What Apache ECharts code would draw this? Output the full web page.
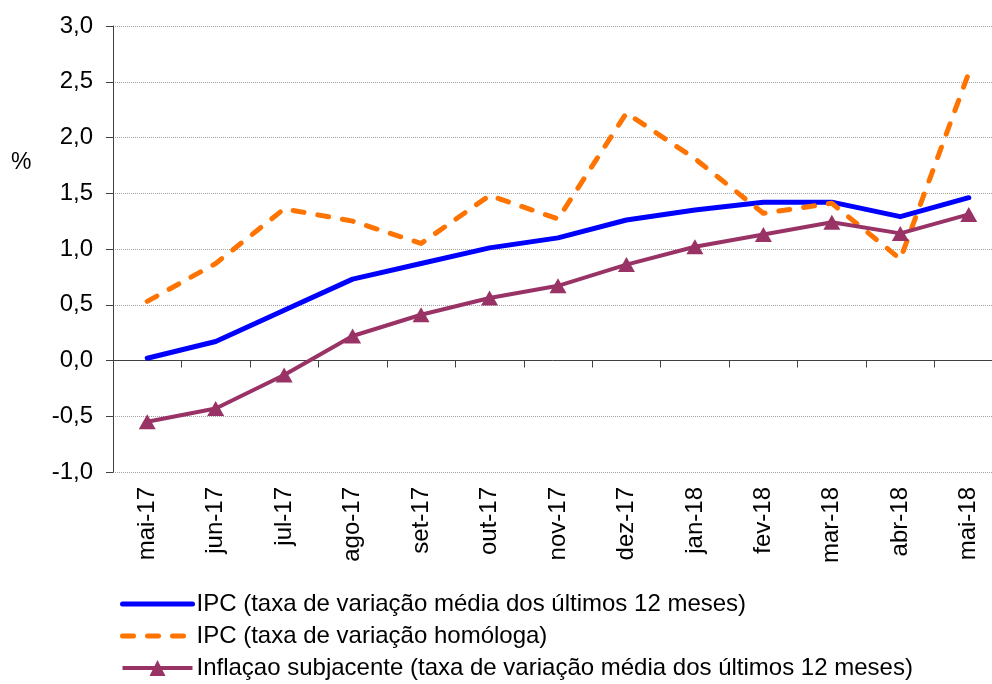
<!DOCTYPE html>
<html>
<head>
<meta charset="utf-8">
<script src="https://cdn.jsdelivr.net/npm/echarts@6/dist/echarts.min.js"></script>
<style>html,body{margin:0;padding:0;background:#fff;}#c{width:992px;height:684px;}</style>
</head>
<body>
<div id="c"></div>
<script>
const categories = ['mai-17','jun-17','jul-17','ago-17','set-17','out-17','nov-17','dez-17','jan-18','fev-18','mar-18','abr-18','mai-18'];
const ipcMedia = [0.02,0.17,0.45,0.73,0.87,1.01,1.10,1.26,1.35,1.42,1.42,1.29,1.46];
const ipcHomologa = [0.53,0.87,1.36,1.25,1.05,1.48,1.27,2.22,1.81,1.32,1.41,0.91,2.58];
const inflSubjacente = [-0.55,-0.43,-0.13,0.22,0.41,0.56,0.67,0.86,1.02,1.13,1.24,1.14,1.31];
const seriesNames = [
  'IPC (taxa de variação média dos últimos 12 meses)',
  'IPC (taxa de variação homóloga)',
  'Inflaçao subjacente (taxa de variação média dos últimos 12 meses)'
];
const yMin = -1, yMax = 3, yStep = 0.5;

const FONT = "'Liberation Sans', Arial, sans-serif";
const chart = echarts.init(document.getElementById('c'), null, {renderer: 'canvas'});
chart.setOption({
  animation: false,
  backgroundColor: '#ffffff',
  textStyle: {fontFamily: FONT},
  graphic: [{
    type: 'text', left: 11, top: 151,
    style: {text: '%', fontSize: 23, fontFamily: FONT, fill: '#000'}
  }],
  legend: {
    orient: 'vertical', left: 120, top: 592, padding: 0,
    itemWidth: 70, itemHeight: 20, itemGap: 8,
    textStyle: {fontSize: 24, fontFamily: FONT, color: '#000', lineHeight: 24, padding: [0,0,0,-1]},
    data: [
      {name: seriesNames[0], itemStyle: {opacity: 0}, lineStyle: {width: 5}},
      {name: seriesNames[1], itemStyle: {opacity: 0}, lineStyle: {width: 5}},
      {name: seriesNames[2], lineStyle: {width: 4}}
    ]
  },
  grid: {left: 113, right: -11, top: 26, bottom: 212, containLabel: false, outerBoundsMode: 'none'},
  xAxis: [{
    type: 'category', data: categories, boundaryGap: true,
    axisLine: {onZero: true, lineStyle: {color: '#404040', width: 1}},
    axisTick: {show: true, length: 7, lineStyle: {color: '#404040'}},
    axisLabel: {show: false},
    splitLine: {show: false}
  }, {
    type: 'category', data: categories, boundaryGap: true, position: 'bottom',
    axisLine: {show: false, onZero: false},
    axisTick: {show: false},
    axisLabel: {show: true, rotate: 90, margin: 15, fontSize: 24, fontFamily: FONT, color: '#000'},
    splitLine: {show: false}
  }],
  yAxis: {
    type: 'value', min: yMin, max: yMax, interval: yStep,
    axisLine: {show: true, lineStyle: {color: '#404040'}},
    axisTick: {show: true, inside: false, length: 7, lineStyle: {color: '#404040'}},
    axisLabel: {margin: 20, fontSize: 24, fontFamily: FONT, color: '#000',
      formatter: v => v.toFixed(1).replace('.', ',')},
    splitLine: {show: true, lineStyle: {color: '#a0a0a0', type: 'dotted', width: 1}}
  },
  series: [{
    name: seriesNames[0], type: 'line', data: ipcMedia, xAxisIndex: 0,
    symbol: 'none', showSymbol: false,
    lineStyle: {color: '#0000ff', width: 5, cap: 'round', join: 'round'},
    itemStyle: {color: '#0000ff'}
  }, {
    name: seriesNames[1], type: 'line', data: ipcHomologa, xAxisIndex: 0,
    symbol: 'none', showSymbol: false,
    lineStyle: {color: '#ff7300', width: 5, type: [11, 14], cap: 'round', join: 'round'},
    itemStyle: {color: '#ff7300'}
  }, {
    name: seriesNames[2], type: 'line', data: inflSubjacente, xAxisIndex: 0,
    symbol: 'triangle', symbolSize: [17, 15], showSymbol: true,
    lineStyle: {color: '#993366', width: 4, join: 'round'},
    itemStyle: {color: '#993366'}
  }]
});
</script>
</body>
</html>
